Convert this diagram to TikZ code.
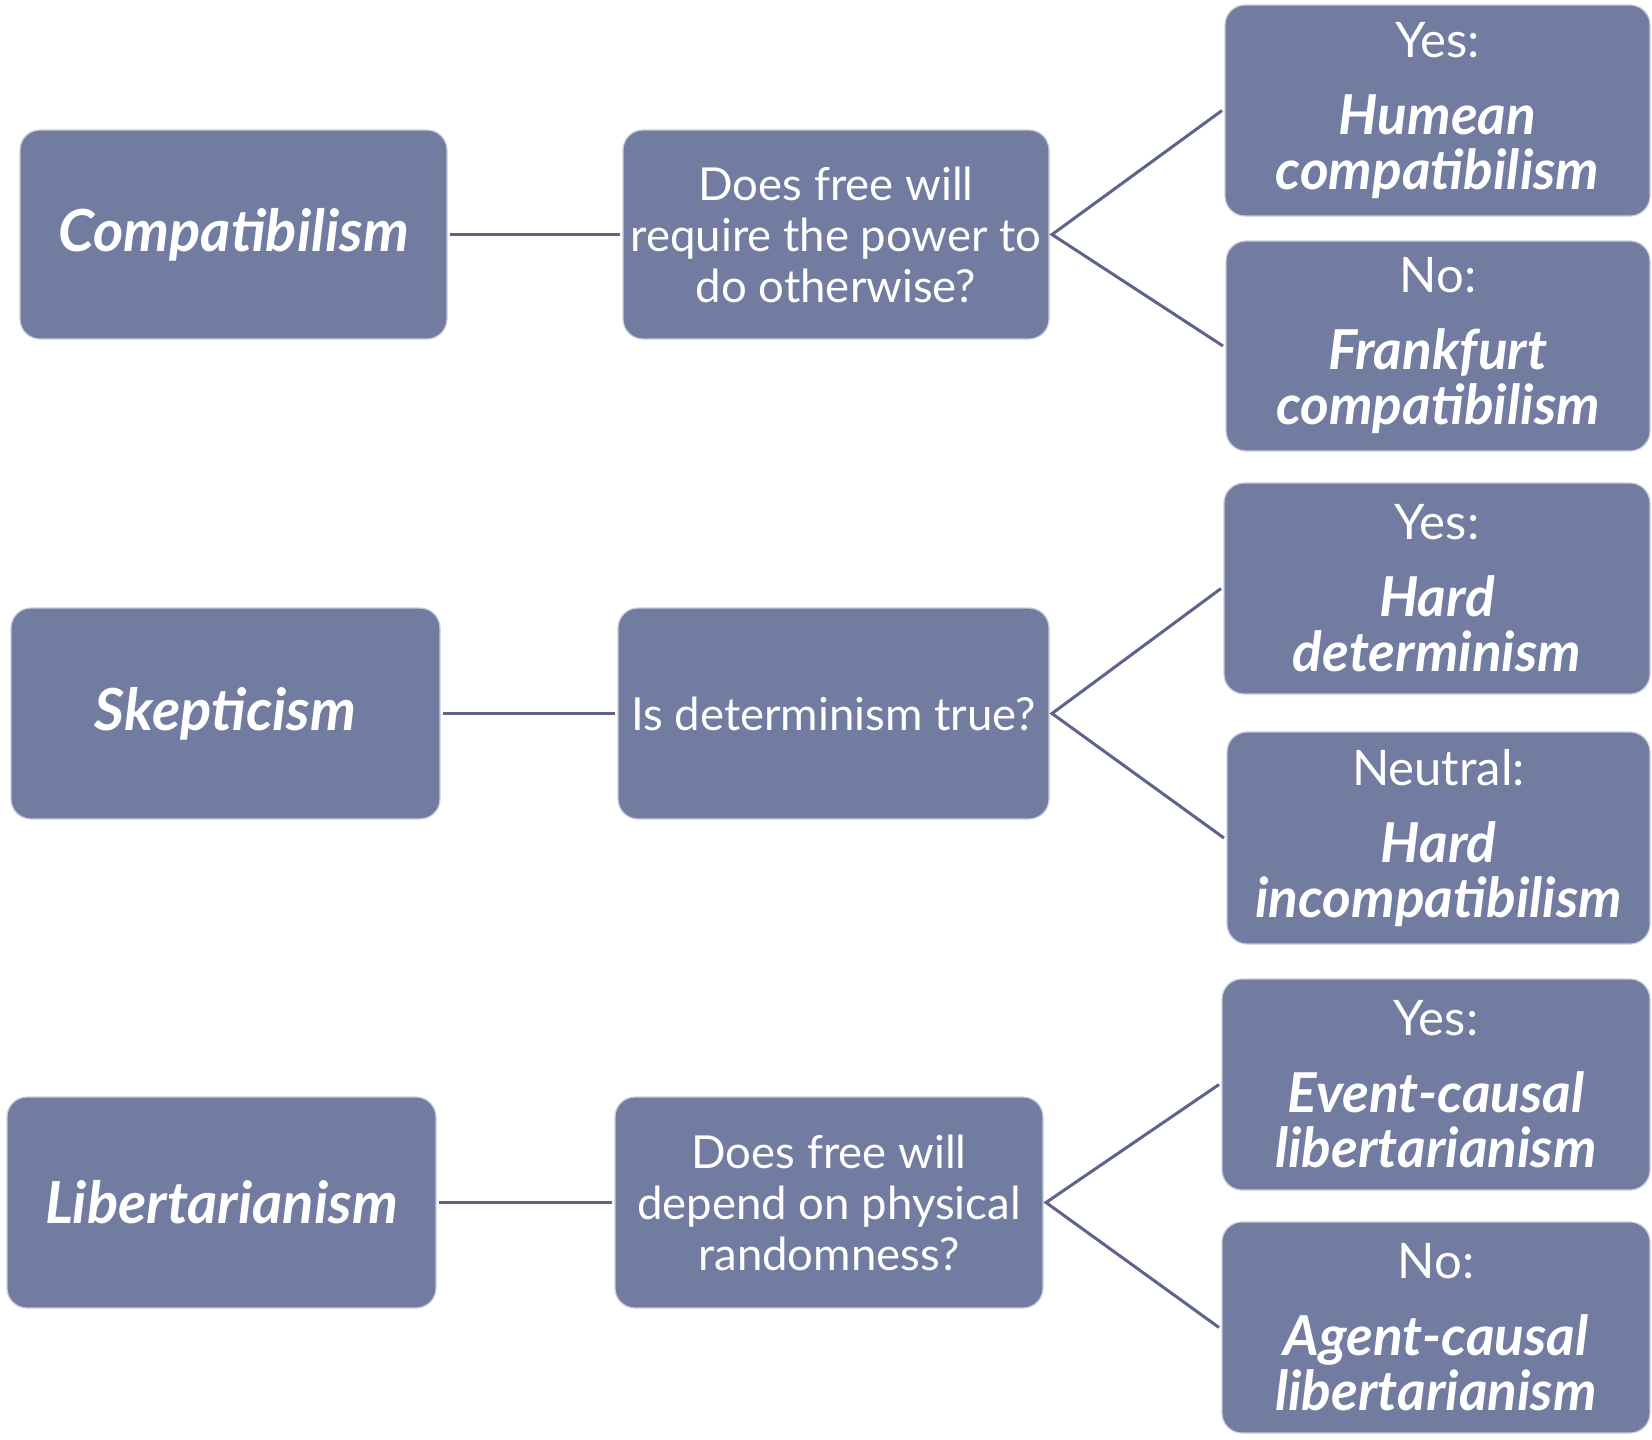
\documentclass[tikz,border=0pt]{standalone}
\usepackage{fontspec}
\setmainfont{Lato}
\definecolor{boxfill}{RGB}{114,124,161}
\definecolor{boxedge}{RGB}{200,205,222}
\definecolor{linkcol}{RGB}{92,100,137}
\newcommand{\ansbold}[1]{{\fontsize{55}{55}\selectfont\bfseries\itshape #1}}
\begin{document}
\begin{tikzpicture}[x=1pt,y=-1pt,
  box/.style={draw=boxedge, line width=1.2pt, fill=boxfill, rounded corners=20pt,
    text=white, align=center, inner sep=0pt, outer sep=3pt},
  qfont/.style={font=\fontsize{45.5}{51}\selectfont},
  mfont/.style={font=\fontsize{58}{58}\selectfont\bfseries\itshape},
  afont/.style={font=\fontsize{49}{55}\selectfont},
  link/.style={draw=linkcol, line width=3pt}]
\useasboundingbox[fill=white] (0,0) rectangle (1652,1440);
% row 1
\node[box, mfont, minimum width=427pt, minimum height=209pt] (comp) at (233.5,234.5) {Compatibilism};
\node[box, qfont, minimum width=426pt, minimum height=209pt] (q1) at (836,234.5) {Does free will\\require the power to\\do otherwise?};
\node[box, afont, minimum width=425pt, minimum height=211pt] (humean) at (1437.5,110.5) {Yes:\\[22pt]\ansbold{Humean}\\\ansbold{compatibilism}};
\node[box, afont, minimum width=424pt, minimum height=210pt] (frank) at (1438,346) {No:\\[22pt]\ansbold{Frankfurt}\\\ansbold{compatibilism}};
% row 2
\node[box, mfont, minimum width=429pt, minimum height=211pt] (skep) at (225.5,713.5) {Skepticism};
\node[box, qfont, minimum width=431pt, minimum height=211pt] (q2) at (833.5,713.5) {Is determinism true?};
\node[box, afont, minimum width=426pt, minimum height=211pt] (hdet) at (1437,588.5) {Yes:\\[22pt]\ansbold{Hard}\\\ansbold{determinism}};
\node[box, afont, minimum width=423pt, minimum height=212pt] (hinc) at (1438.5,838) {Neutral:\\[22pt]\ansbold{Hard}\\\ansbold{incompatibilism}};
% row 3
\node[box, mfont, minimum width=429pt, minimum height=211pt] (lib) at (221.5,1202.5) {Libertarianism};
\node[box, qfont, minimum width=428pt, minimum height=211pt] (q3) at (829,1202.5) {Does free will\\depend on physical\\randomness?};
\node[box, afont, minimum width=428pt, minimum height=211pt] (event) at (1436,1084.5) {Yes:\\[22pt]\ansbold{Event-causal}\\\ansbold{libertarianism}};
\node[box, afont, minimum width=428pt, minimum height=211pt] (agent) at (1436,1327.5) {No:\\[22pt]\ansbold{Agent-causal}\\\ansbold{libertarianism}};
% connectors
\draw[link] (comp.east) -- (q1.west);
\draw[link] (humean.west) -- (q1.east) -- (frank.west);
\draw[link] (skep.east) -- (q2.west);
\draw[link] (hdet.west) -- (q2.east) -- (hinc.west);
\draw[link] (lib.east) -- (q3.west);
\draw[link] (event.west) -- (q3.east) -- (agent.west);
\end{tikzpicture}
\end{document}
